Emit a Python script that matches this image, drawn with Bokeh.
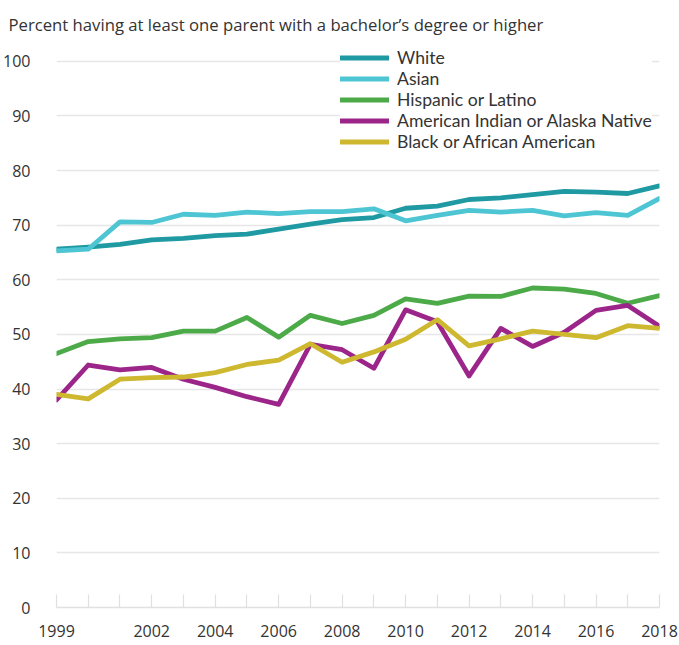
from bokeh.plotting import figure
from bokeh.models import Range1d, FixedTicker, Legend, LegendItem
from bokeh.embed import file_html
from bokeh.resources import INLINE

years = list(range(1999, 2019))
white = [65.6, 66.0, 66.5, 67.3, 67.6, 68.1, 68.35, 69.3, 70.2, 71.0,
         71.4, 73.1, 73.5, 74.7, 75.0, 75.6, 76.2, 76.05, 75.8, 77.2]
asian = [65.3, 65.6, 70.6, 70.5, 72.0, 71.8, 72.4, 72.1, 72.5, 72.5,
         73.0, 70.8, 71.8, 72.7, 72.4, 72.7, 71.7, 72.3, 71.8, 74.9]
hispanic = [46.5, 48.7, 49.2, 49.4, 50.6, 50.6, 53.1, 49.5, 53.5, 52.0,
            53.5, 56.5, 55.7, 57.0, 56.95, 58.5, 58.3, 57.5, 55.7, 57.1]
aian = [38.0, 44.4, 43.5, 43.95, 41.8, 40.3, 38.6, 37.2, 48.2, 47.2,
        43.8, 54.5, 52.3, 42.4, 51.1, 47.8, 50.4, 54.4, 55.3, 51.5]
black = [39.0, 38.2, 41.8, 42.1, 42.2, 43.0, 44.5, 45.3, 48.3, 44.9,
         46.8, 49.1, 52.7, 47.9, 49.2, 50.6, 50.0, 49.4, 51.6, 51.1]

series_names = ["White", "Asian", "Hispanic or Latino",
                "American Indian or Alaska Native", "Black or African American"]
series_values = [white, asian, hispanic, aian, black]
colors = ["#1f9aa3", "#4ec5d3", "#4caa48", "#9b2589", "#cdb82f"]

x_tick_labels = {1999: "1999", 2002: "2002", 2004: "2004", 2006: "2006",
                 2008: "2008", 2010: "2010", 2012: "2012", 2014: "2014",
                 2016: "2016", 2018: "2018"}
y_ticks = [0, 10, 20, 30, 40, 50, 60, 70, 80, 90, 100]

FONT = "Open Sans"
TXT = "#333333"

p = figure(width=679, height=645, output_backend="svg", toolbar_location=None,
           x_range=Range1d(1999, 2018), y_range=Range1d(0, 102.9),
           min_border_left=56, min_border_right=20, min_border_top=44,
           min_border_bottom=38)

p.title.text = "Percent having at least one parent with a bachelor\u2019s degree or higher"
p.title.text_font = FONT
p.title.text_font_size = "16.7px"
p.title.text_font_style = "normal"
p.title.text_color = TXT
p.title.align = "left"
p.title.offset = -48
p.title.standoff = 20

p.outline_line_color = None
p.xgrid.grid_line_color = None
p.ygrid.grid_line_color = "#e6e6e6"
p.ygrid.grid_line_width = 1.5
p.ygrid.ticker = FixedTicker(ticks=y_ticks[1:])

p.yaxis.ticker = FixedTicker(ticks=y_ticks)
p.yaxis.axis_line_color = None
p.yaxis.major_tick_line_color = None
p.yaxis.minor_tick_line_color = None
p.yaxis.major_label_standoff = 20
p.yaxis.major_label_text_font = FONT
p.yaxis.major_label_text_font_size = "16px"
p.yaxis.major_label_text_color = TXT

p.xaxis.ticker = FixedTicker(ticks=years)
p.xaxis.major_label_overrides = {y: x_tick_labels.get(y, "") for y in years}
p.xaxis.axis_line_color = "#e0e0e0"
p.xaxis.axis_line_width = 1.5
p.xaxis.major_tick_line_color = "#e0e0e0"
p.xaxis.major_tick_line_width = 1.2
p.xaxis.major_tick_in = 13
p.xaxis.major_tick_out = 0
p.xaxis.minor_tick_line_color = None
p.xaxis.major_label_standoff = 17
p.xaxis.major_label_text_font = FONT
p.xaxis.major_label_text_font_size = "16px"
p.xaxis.major_label_text_color = TXT

items = []
for name, vals, col in zip(series_names, series_values, colors):
    r = p.line(years, vals, line_color=col, line_width=4.8,
               line_join="round", line_cap="round")
    items.append(LegendItem(label=name, renderers=[r]))

legend = Legend(items=items, location=(284, 455), orientation="vertical",
                glyph_width=49, glyph_height=21, label_height=21, spacing=0,
                label_standoff=8, padding=5, margin=0,
                label_text_font="Lato", label_text_font_size="17.6px",
                label_text_color=TXT, border_line_color=None,
                background_fill_color="white", background_fill_alpha=1.0)
p.add_layout(legend, "center")

open("out.html", "w").write(file_html(p, INLINE))
